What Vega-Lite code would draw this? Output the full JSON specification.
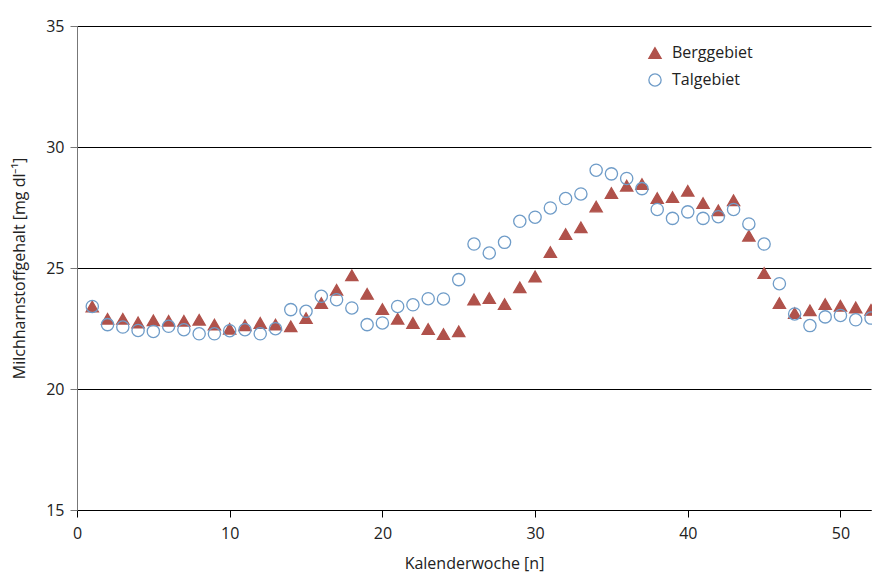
{
  "$schema": "https://vega.github.io/schema/vega-lite/v6.json",
  "width": 794,
  "height": 484,
  "autosize": "none",
  "padding": {"left": 77, "top": 26, "right": 1, "bottom": 69},
  "background": "white",
  "config": {
    "view": {"stroke": null},
    "font": "Open Sans",
    "axis": {"labelFont": "Open Sans", "titleFont": "Open Sans", "labelColor": "#222", "titleColor": "#222", "titleFontWeight": "normal", "labelFontSize": 16, "titleFontSize": 16}
  },
  "data": {"values": [
    {"w":1,"Berggebiet":23.41,"Talgebiet":23.41},
    {"w":2,"Berggebiet":22.9,"Talgebiet":22.66},
    {"w":3,"Berggebiet":22.9,"Talgebiet":22.56},
    {"w":4,"Berggebiet":22.75,"Talgebiet":22.42},
    {"w":5,"Berggebiet":22.84,"Talgebiet":22.38},
    {"w":6,"Berggebiet":22.82,"Talgebiet":22.59},
    {"w":7,"Berggebiet":22.82,"Talgebiet":22.45},
    {"w":8,"Berggebiet":22.86,"Talgebiet":22.28},
    {"w":9,"Berggebiet":22.66,"Talgebiet":22.28},
    {"w":10,"Berggebiet":22.49,"Talgebiet":22.41},
    {"w":11,"Berggebiet":22.63,"Talgebiet":22.45},
    {"w":12,"Berggebiet":22.73,"Talgebiet":22.28},
    {"w":13,"Berggebiet":22.66,"Talgebiet":22.49},
    {"w":14,"Berggebiet":22.59,"Talgebiet":23.28},
    {"w":15,"Berggebiet":22.93,"Talgebiet":23.21},
    {"w":16,"Berggebiet":23.55,"Talgebiet":23.83},
    {"w":17,"Berggebiet":24.1,"Talgebiet":23.69},
    {"w":18,"Berggebiet":24.7,"Talgebiet":23.35},
    {"w":19,"Berggebiet":23.93,"Talgebiet":22.66},
    {"w":20,"Berggebiet":23.3,"Talgebiet":22.73},
    {"w":21,"Berggebiet":22.9,"Talgebiet":23.41},
    {"w":22,"Berggebiet":22.73,"Talgebiet":23.48},
    {"w":23,"Berggebiet":22.48,"Talgebiet":23.73},
    {"w":24,"Berggebiet":22.27,"Talgebiet":23.72},
    {"w":25,"Berggebiet":22.38,"Talgebiet":24.52},
    {"w":26,"Berggebiet":23.7,"Talgebiet":25.99},
    {"w":27,"Berggebiet":23.76,"Talgebiet":25.62},
    {"w":28,"Berggebiet":23.51,"Talgebiet":26.06},
    {"w":29,"Berggebiet":24.2,"Talgebiet":26.93},
    {"w":30,"Berggebiet":24.65,"Talgebiet":27.1},
    {"w":31,"Berggebiet":25.66,"Talgebiet":27.48},
    {"w":32,"Berggebiet":26.4,"Talgebiet":27.87},
    {"w":33,"Berggebiet":26.68,"Talgebiet":28.06},
    {"w":34,"Berggebiet":27.54,"Talgebiet":29.04},
    {"w":35,"Berggebiet":28.1,"Talgebiet":28.89},
    {"w":36,"Berggebiet":28.4,"Talgebiet":28.7},
    {"w":37,"Berggebiet":28.47,"Talgebiet":28.28},
    {"w":38,"Berggebiet":27.89,"Talgebiet":27.42},
    {"w":39,"Berggebiet":27.93,"Talgebiet":27.05},
    {"w":40,"Berggebiet":28.19,"Talgebiet":27.32},
    {"w":41,"Berggebiet":27.68,"Talgebiet":27.05},
    {"w":42,"Berggebiet":27.38,"Talgebiet":27.12},
    {"w":43,"Berggebiet":27.8,"Talgebiet":27.42},
    {"w":44,"Berggebiet":26.33,"Talgebiet":26.82},
    {"w":45,"Berggebiet":24.79,"Talgebiet":25.99},
    {"w":46,"Berggebiet":23.55,"Talgebiet":24.35},
    {"w":47,"Berggebiet":23.14,"Talgebiet":23.1},
    {"w":48,"Berggebiet":23.25,"Talgebiet":22.62},
    {"w":49,"Berggebiet":23.51,"Talgebiet":22.98},
    {"w":50,"Berggebiet":23.44,"Talgebiet":23.04},
    {"w":51,"Berggebiet":23.37,"Talgebiet":22.86},
    {"w":52,"Berggebiet":23.27,"Talgebiet":22.93}
  ]},
  "transform": [{"fold": ["Berggebiet", "Talgebiet"], "as": ["Gebiet", "v"]}],
  "mark": {"type": "point", "filled": false, "strokeWidth": 1.3, "opacity": 1},
  "encoding": {
    "x": {
      "field": "w", "type": "quantitative",
      "scale": {"domain": [0, 52], "nice": false, "zero": false},
      "axis": {"title": "Kalenderwoche [n]", "values": [0,10,20,30,40,50], "grid": false, "domainColor": "#000", "tickColor": "#000", "tickSize": 7, "labelPadding": 8, "titlePadding": 14, "labelFlush": false}
    },
    "y": {
      "field": "v", "type": "quantitative",
      "scale": {"domain": [15, 35], "nice": false, "zero": false},
      "axis": {"title": "Milchharnstoffgehalt [mg dl⁻¹]", "values": [15,20,25,30,35], "grid": true, "gridColor": "#000", "gridOpacity": 1, "gridWidth": 1, "domainColor": "#777", "tickColor": "#777", "tickSize": 7, "labelPadding": 6, "titlePadding": 18}
    },
    "shape": {
      "field": "Gebiet", "type": "nominal",
      "scale": {"domain": ["Berggebiet", "Talgebiet"], "range": ["triangle-up", "circle"]},
      "legend": {"title": null, "orient": "none", "legendX": 570, "legendY": 19, "labelFontSize": 16, "labelFont": "Open Sans", "labelColor": "#222", "symbolSize": 150, "rowPadding": 10, "labelOffset": 9, "symbolStrokeWidth": 1.3}
    },
    "fill": {
      "field": "Gebiet", "type": "nominal",
      "scale": {"domain": ["Berggebiet", "Talgebiet"], "range": ["#b0524b", "transparent"]},
      "legend": {"title": null, "orient": "none", "legendX": 570, "legendY": 19, "labelFontSize": 16, "labelFont": "Open Sans", "labelColor": "#222", "symbolSize": 150, "rowPadding": 10, "labelOffset": 9, "symbolStrokeWidth": 1.3}
    },
    "stroke": {
      "field": "Gebiet", "type": "nominal",
      "scale": {"domain": ["Berggebiet", "Talgebiet"], "range": ["#b0524b", "#6f9cc8"]},
      "legend": {"title": null, "orient": "none", "legendX": 570, "legendY": 19, "labelFontSize": 16, "labelFont": "Open Sans", "labelColor": "#222", "symbolSize": 150, "rowPadding": 10, "labelOffset": 9, "symbolStrokeWidth": 1.3}
    },
    "size": {"value": 150}
  }
}
